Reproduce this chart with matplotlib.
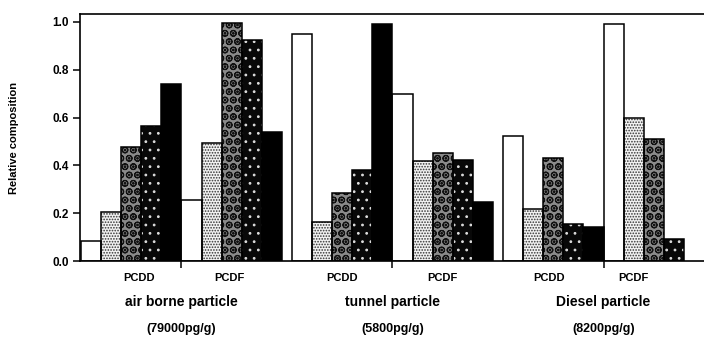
import numpy as np
import matplotlib
matplotlib.use("Agg")
import matplotlib.pyplot as plt

# homologue series (tetra .. octa), shown only through the fill patterns
homologues = ['T4', 'P5', 'H6', 'H7', 'O8']
particles = ['air borne particle', 'tunnel particle', 'Diesel particle']
concentrations = ['(79000pg/g)', '(5800pg/g)', '(8200pg/g)']
groups = ['PCDD', 'PCDF']

air_pcdd = [0.085, 0.205, 0.478, 0.565, 0.74]
air_pcdf = [0.255, 0.492, 0.995, 0.925, 0.54]
tunnel_pcdd = [0.95, 0.164, 0.286, 0.381, 0.992]
tunnel_pcdf = [0.70, 0.418, 0.45, 0.423, 0.245]
diesel_pcdd = [0.523, 0.216, 0.432, 0.155, 0.144]
diesel_pcdf = [0.99, 0.60, 0.509, 0.092, 0.0]

values = [[air_pcdd, air_pcdf],
          [tunnel_pcdd, tunnel_pcdf],
          [diesel_pcdd, diesel_pcdf]]

y_ticks = [0.0, 0.2, 0.4, 0.6, 0.8, 1.0]

# fill style per homologue: face colour, hatch, hatch colour
styles = [('white', None, 'black'),
          ('#f2f2f2', '......', '#333333'),
          ('#8a8a8a', 'OO..', '#111111'),
          ('#080808', '..', '#dddddd'),
          ('black', None, 'black')]

plt.rcParams['font.family'] = ['Liberation Sans', 'DejaVu Sans']
plt.rcParams['font.weight'] = 'bold'
plt.rcParams['hatch.linewidth'] = 0.8

fig = plt.figure(figsize=(7.04, 3.38), dpi=100)
ax = fig.add_axes([0.1136, 0.2278, 0.8864, 0.7308])

pspace, gspace = 10.5, 5
for p in range(len(particles)):
    for g in range(len(groups)):
        start = p * pspace + g * gspace
        for k, v in enumerate(values[p][g]):
            if v <= 0:
                continue
            face, hatch, hcol = styles[k]
            x = start + k + 0.5
            if hatch:
                ax.bar(x, v, width=1, color=face, hatch=hatch,
                       edgecolor=hcol, linewidth=0, zorder=2)
            else:
                ax.bar(x, v, width=1, color=face, linewidth=0, zorder=2)
            ax.bar(x, v, width=1, facecolor='none', edgecolor='black',
                   linewidth=1.1, zorder=3)

ax.set_xlim(-0.05, 31)
ax.set_ylim(0, 1.033)
ax.spines['right'].set_visible(False)
for s in ['left', 'top', 'bottom']:
    ax.spines[s].set_linewidth(1.2)

ax.set_yticks(y_ticks)
ax.set_yticklabels(['%.1f' % t for t in y_ticks], fontsize=8.5,
                   fontweight='bold')
ax.tick_params(axis='y', direction='out', length=5, width=1.1, pad=3)

# dividers between PCDD and PCDF of each particle
div = [p * pspace + gspace for p in range(len(particles))]
ax.set_xticks(div)
ax.set_xticklabels([])
ax.tick_params(axis='x', direction='out', length=5, width=1.1)

ax.set_ylabel('Relative composition', fontsize=8, fontweight='bold',
              labelpad=24)

label_shift = [[0.4, -0.1], [0.0, 0.0], [-0.2, -1.0]]
trans = ax.get_xaxis_transform()
for p in range(len(particles)):
    for g in range(len(groups)):
        xc = p * pspace + g * gspace + 2.5 + label_shift[p][g]
        ax.text(xc, -0.07, groups[g], transform=trans, ha='center',
                va='center', fontsize=8, fontweight='bold')
    xm = p * pspace + gspace
    ax.text(xm, -0.165, particles[p], transform=trans, ha='center',
            va='center', fontsize=10, fontweight='bold')
    ax.text(xm, -0.275, concentrations[p], transform=trans, ha='center',
            va='center', fontsize=9, fontweight='bold')

fig.savefig('out.png', dpi=100)
